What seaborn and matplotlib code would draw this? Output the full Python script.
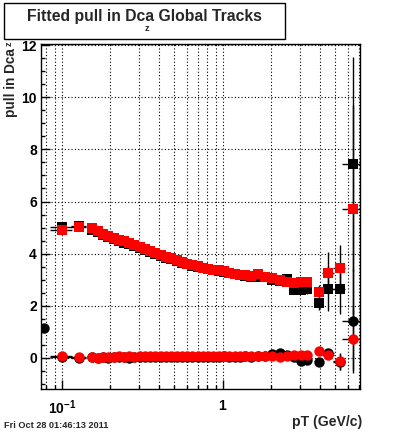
import numpy as np
import pandas as pd
import matplotlib
matplotlib.use("Agg")
import matplotlib.pyplot as plt
from matplotlib.patches import Rectangle
from matplotlib.ticker import MultipleLocator, FixedLocator, NullFormatter
import seaborn as sns

nan = np.nan
# pT bin centres (GeV/c)
pt = [0.077, 0.100, 0.128,
      0.154, 0.167, 0.180, 0.194, 0.209, 0.225, 0.243, 0.262, 0.282, 0.304,
      0.328, 0.354, 0.381, 0.411, 0.443, 0.478, 0.515, 0.555, 0.598, 0.645,
      0.695, 0.750, 0.810, 0.870, 0.940, 1.010, 1.090, 1.180, 1.270, 1.370,
      1.490, 1.650, 1.830, 2.030, 2.250, 2.500, 2.780, 3.050, 3.350, 3.950,
      4.500, 5.300, 6.400]
pt_err = [0.0, 0.016, 0.014,
          0, 0, 0, 0, 0, 0, 0, 0, 0, 0,
          0, 0, 0, 0, 0, 0, 0, 0, 0, 0,
          0, 0, 0, 0, 0, 0, 0, 0, 0, 0,
          0.06, 0.07, 0.08, 0.09, 0.10, 0.11, 0.12, 0.13, 0.14, 0.22,
          0.40, 0.45, 0.90]

# sigma of the pull (squares)
sigma_black = [nan, 5.04, 5.06,
               4.92, 4.82, 4.70, 4.62, 4.56, 4.50, 4.42, 4.36, 4.28, 4.21,
               4.13, 4.05, 3.99, 3.92, 3.85, 3.78, 3.72, 3.65, 3.60, 3.53,
               3.48, 3.44, 3.40, 3.37, 3.34, 3.31, 3.27, 3.23, 3.18, 3.15,
               3.12, 3.10, 3.10, 2.98, 2.95, 3.03, 2.62, 2.62, 2.65, 2.09,
               2.66, 2.64, 7.45]
sigma_black_err = [0, 0.05, 0.05,
                   0.05, 0.05, 0.05, 0.05, 0.05, 0.05, 0.05, 0.05, 0.05, 0.05,
                   0.05, 0.05, 0.05, 0.05, 0.05, 0.05, 0.05, 0.05, 0.05, 0.05,
                   0.05, 0.05, 0.05, 0.05, 0.05, 0.05, 0.05, 0.05, 0.05, 0.05,
                   0.05, 0.05, 0.06, 0.07, 0.08, 0.10, 0.15, 0.15, 0.20, 0.25,
                   0.85, 0.95, 4.10]
sigma_red = [nan, 4.90, 5.01,
             4.97, 4.85, 4.74, 4.66, 4.60, 4.53, 4.47, 4.40, 4.32, 4.24,
             4.17, 4.10, 4.03, 3.96, 3.89, 3.82, 3.75, 3.69, 3.62, 3.56,
             3.51, 3.46, 3.42, 3.39, 3.36, 3.32, 3.27, 3.22, 3.19, 3.17,
             3.16, 3.22, 3.12, 3.05, 2.98, 2.92, 2.88, 2.90, 2.90, 2.54,
             3.25, 3.44, 5.70]
sigma_red_err = [0, 0.05, 0.05,
                 0.05, 0.05, 0.05, 0.05, 0.05, 0.05, 0.05, 0.05, 0.05, 0.05,
                 0.05, 0.05, 0.05, 0.05, 0.05, 0.05, 0.05, 0.05, 0.05, 0.05,
                 0.05, 0.05, 0.05, 0.05, 0.05, 0.05, 0.05, 0.05, 0.05, 0.05,
                 0.05, 0.05, 0.06, 0.07, 0.08, 0.10, 0.15, 0.15, 0.20, 0.25,
                 0.80, 0.90, 4.00]

# mean of the pull (circles)
mean_black = [1.15, 0.03, -0.02,
              0.02, 0.00, 0.04, 0.01, 0.03, 0.02, 0.04, 0.01, 0.03, 0.02,
              0.04, 0.03, 0.02, 0.04, 0.03, 0.05, 0.03, 0.04, 0.05, 0.03,
              0.04, 0.05, 0.03, 0.05, 0.04, 0.06, 0.03, 0.05, 0.04, 0.06,
              0.04, 0.06, 0.08, 0.15, 0.18, 0.12, 0.05, -0.12, -0.08, -0.14,
              0.20, -0.15, 1.42]
mean_black_err = [0.05, 0.03, 0.03,
                  0.03, 0.03, 0.03, 0.03, 0.03, 0.03, 0.03, 0.03, 0.03, 0.03,
                  0.03, 0.03, 0.03, 0.03, 0.03, 0.03, 0.03, 0.03, 0.03, 0.03,
                  0.03, 0.03, 0.03, 0.03, 0.03, 0.03, 0.03, 0.03, 0.03, 0.03,
                  0.03, 0.03, 0.04, 0.04, 0.05, 0.05, 0.06, 0.06, 0.07, 0.10,
                  0.15, 0.30, 1.98]
mean_red = [nan, 0.08, 0.05,
            0.03, 0.01, 0.02, 0.05, 0.04, 0.06, 0.05, 0.07, 0.05, 0.06,
            0.07, 0.06, 0.08, 0.07, 0.06, 0.08, 0.07, 0.08, 0.07, 0.08,
            0.07, 0.09, 0.08, 0.07, 0.09, 0.08, 0.09, 0.08, 0.09, 0.08,
            0.07, 0.08, 0.07, 0.08, 0.05, 0.06, 0.10, 0.11, 0.12, 0.26,
            0.11, -0.13, 0.72]
mean_red_err = [0, 0.03, 0.03,
                0.03, 0.03, 0.03, 0.03, 0.03, 0.03, 0.03, 0.03, 0.03, 0.03,
                0.03, 0.03, 0.03, 0.03, 0.03, 0.03, 0.03, 0.03, 0.03, 0.03,
                0.03, 0.03, 0.03, 0.03, 0.03, 0.03, 0.03, 0.03, 0.03, 0.03,
                0.03, 0.03, 0.04, 0.04, 0.05, 0.05, 0.06, 0.06, 0.07, 0.10,
                0.15, 0.33, 1.20]

x_major = [0.1, 1.0]
x_major_labels = [r"$\mathbf{10^{-1}}$", r"$\mathbf{1}$"]
x_minor = [0.08, 0.09, 0.2, 0.3, 0.4, 0.5, 0.6, 0.7, 0.8, 0.9, 2, 3, 4, 5, 6, 7]
y_major = [0, 2, 4, 6, 8, 10, 12]

sns.set_style("ticks")
plt.rcParams["font.family"] = ["Liberation Sans", "DejaVu Sans"]
plt.rcParams["font.weight"] = "bold"
plt.rcParams["mathtext.fontset"] = "custom"
plt.rcParams["mathtext.rm"] = "Liberation Sans:bold"
plt.rcParams["mathtext.bf"] = "Liberation Sans:bold"
plt.rcParams["mathtext.it"] = "Liberation Sans:bold"

df = pd.DataFrame({"pt": pt, "pt_err": pt_err,
                   "sb": sigma_black, "sbe": sigma_black_err,
                   "sr": sigma_red, "sre": sigma_red_err,
                   "mb": mean_black, "mbe": mean_black_err,
                   "mr": mean_red, "mre": mean_red_err})

fig = plt.figure(figsize=(4.0, 4.33), dpi=100)
ax = fig.add_axes([41 / 400, 1 - 389 / 433, 319 / 400, 345 / 433])
ax.set_xscale("log")

series = [("sb", "sbe", "s", "black", 46), ("sr", "sre", "s", "red", 46),
          ("mb", "mbe", "o", "black", 56), ("mr", "mre", "o", "red", 56)]
z = 2
for col, ecol, mk, colr, size in series:
    d = df.dropna(subset=[col])
    ax.errorbar(d["pt"], d[col], yerr=d[ecol], xerr=d["pt_err"], fmt="none",
                ecolor="black", elinewidth=1.0, capsize=0, zorder=z)
    sns.scatterplot(data=d, x="pt", y=col, marker=mk, color=colr, s=size,
                    linewidth=0, ax=ax, zorder=z + 1, legend=False)
    z += 2

ax.set_xlim(0.0741, 7.1)
ax.set_ylim(-1.19, 12.04)

ax.xaxis.set_major_locator(FixedLocator(x_major))
ax.set_xticklabels(x_major_labels)
ax.xaxis.set_minor_locator(FixedLocator(x_minor))
ax.xaxis.set_minor_formatter(NullFormatter())
ax.yaxis.set_major_locator(FixedLocator(y_major))
ax.yaxis.set_minor_locator(MultipleLocator(0.5))
ax.set_yticklabels([str(v) for v in y_major])

ax.tick_params(which="both", direction="in", top=False, right=False,
               width=1.0, colors="black", labelsize=10)
ax.tick_params(which="major", length=6.5)
ax.tick_params(which="minor", length=3.2)
ax.tick_params(axis="y", pad=3)
ax.tick_params(axis="x", pad=7)

gkw = dict(color="black", linestyle=(0, (1, 2)), linewidth=0.8)
ax.grid(True, which="both", axis="x", **gkw)
ax.grid(True, which="major", axis="y", **gkw)
ax.set_axisbelow(True)
for sp in ax.spines.values():
    sp.set_visible(True)
    sp.set_linewidth(1.0)
    sp.set_color("black")
ax.set_xlabel("")
ax.set_ylabel("")

# Title box
fig.add_artist(Rectangle((4 / 400, 1 - 39 / 433), 281 / 400, 36 / 433,
                         transform=fig.transFigure, facecolor="white",
                         edgecolor="black", linewidth=1.0))
fig.text(144.5 / 400, 1 - 17 / 433, "Fitted pull in Dca Global Tracks",
         ha="center", va="center", fontsize=11.3, fontweight="bold")
fig.text(147 / 400, 1 - 28.5 / 433, "z", ha="center", va="center",
         fontsize=6.5, fontweight="bold")

# Axis titles
fig.text(11 / 400, 1 - 48 / 433, "pull in Dca", rotation=90, ha="center",
         va="top", fontsize=9.8, fontweight="bold")
fig.text(9 / 400, 1 - 41 / 433, "z", rotation=90, ha="center", va="top",
         fontsize=6.5, fontweight="bold")
fig.text(362 / 400, 1 - 426 / 433, "pT (GeV/c)", ha="right", va="baseline",
         fontsize=10.1, fontweight="bold")
fig.text(4 / 400, 1 - 428 / 433, "Fri Oct 28 01:46:13 2011", ha="left",
         va="baseline", fontsize=6.6, fontweight="bold")

fig.savefig("out.png", dpi=100)
